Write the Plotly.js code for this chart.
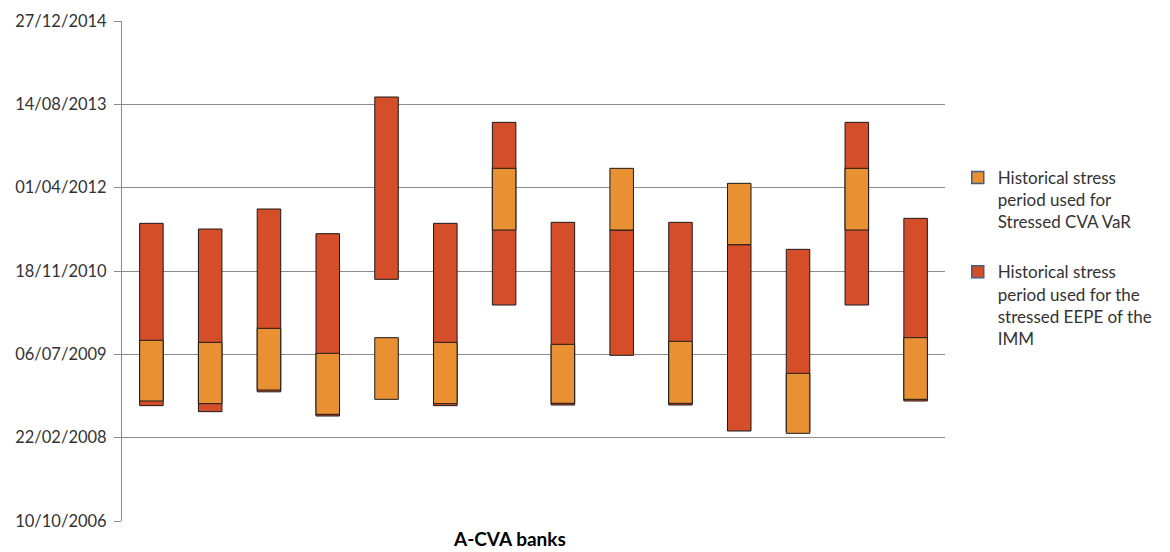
<!DOCTYPE html>
<html>
<head>
<meta charset="utf-8">
<script src="https://cdn.plot.ly/plotly-3.0.1.min.js"></script>
<style>
html,body{margin:0;padding:0;background:#fff;}
#chart{width:1170px;height:552px;}
</style>
</head>
<body>
<div id="chart"></div>
<script>
// A-CVA banks (1..14)
const banks = [1,2,3,4,5,6,7,8,9,10,11,12,13,14];
// Historical stress period used for the stressed EEPE of the IMM
const eepeStart = ['2008-09-01','2008-07-27','2008-11-23','2008-07-01','2010-09-29','2008-09-01','2010-04-28','2008-09-05','2009-06-30','2008-09-05','2008-04-02','2008-03-28','2010-04-28','2008-09-29'];
const eepeEnd   = ['2011-08-31','2011-07-28','2011-11-25','2011-06-30','2013-09-27','2011-08-31','2013-04-28','2011-09-06','2011-07-22','2011-09-06','2011-04-25','2011-03-28','2013-04-28','2011-09-30'];
// Historical stress period used for Stressed CVA VaR
const cvaStart = ['2008-09-29','2008-09-13','2008-12-04','2008-07-11','2008-10-09','2008-09-13','2011-07-22','2008-09-15','2011-07-22','2008-09-15','2011-04-25','2008-03-19','2011-07-22','2008-10-09'];
const cvaEnd   = ['2009-09-28','2009-09-16','2009-12-09','2009-07-12','2009-10-14','2009-09-16','2012-07-26','2009-09-04','2012-07-26','2009-09-22','2012-04-27','2009-03-14','2012-07-26','2009-10-14'];
const legendCva = 'Historical stress<br>period used for<br>Stressed CVA VaR';
const legendEepe = 'Historical stress<br>period used for the<br>stressed EEPE of the<br>IMM';

const RED = '#D44E2A', ORANGE = '#E89032';
const dur = (s, e) => s.map((d, i) => Date.parse(e[i]) - Date.parse(d));

const traces = [
  {type:'bar', x:banks, base:eepeStart, y:dur(eepeStart, eepeEnd), width:0.4,
   marker:{color:RED, line:{color:'#1a1a1a', width:1}}, showlegend:false, hoverinfo:'skip'},
  {type:'bar', x:banks, base:cvaStart, y:dur(cvaStart, cvaEnd), width:0.4,
   marker:{color:ORANGE, line:{color:'#1a1a1a', width:1}}, showlegend:false, hoverinfo:'skip'},
  // legend entries
  {type:'bar', x:[null], y:[null], name:legendCva, legendgroup:'a',
   marker:{color:ORANGE, line:{color:'#3F5F84', width:1.5}}},
  {type:'bar', x:[null], y:[null], name:legendEepe, legendgroup:'b',
   marker:{color:RED, line:{color:'#3F5F84', width:1.5}}}
];

const layout = {
  width:1170, height:552,
  margin:{l:122, r:225, t:21, b:31, pad:0},
  paper_bgcolor:'#fff', plot_bgcolor:'#fff',
  barmode:'overlay',
  font:{family:'Lato, "Open Sans", sans-serif', size:16, color:'#333'},
  xaxis:{range:[0.5,14.5], showticklabels:false, showgrid:false, zeroline:false,
         showline:false, ticks:''},
  yaxis:{type:'date', range:['2006-10-10','2014-12-27'], tick0:'2006-10-10',
         dtick:500*86400000, tickformat:'%d/%m/%Y', showgrid:true, gridcolor:'#8c8c8c',
         gridwidth:1, showline:true, linecolor:'#8c8c8c', linewidth:1, ticks:'outside',
         ticklen:7, tickcolor:'#8c8c8c', ticklabelstandoff:4, zeroline:false,
         tickfont:{size:16.5, color:'#333'}},
  legend:{x:1.0155, xanchor:'left', y:0.722, yanchor:'top', valign:'top',
          tracegroupgap:25, font:{size:17, color:'#333'}, itemwidth:30,
          bgcolor:'rgba(0,0,0,0)'},
  annotations:[{text:'<b>A-CVA banks</b>', xref:'paper', yref:'paper',
                x:(509-122)/823, y:0, yshift:-31, xanchor:'center', yanchor:'bottom',
                showarrow:false, font:{size:19, color:'#000'}}]
};

Plotly.newPlot('chart', traces, layout, {displayModeBar:false, staticPlot:true});
</script>
</body>
</html>
